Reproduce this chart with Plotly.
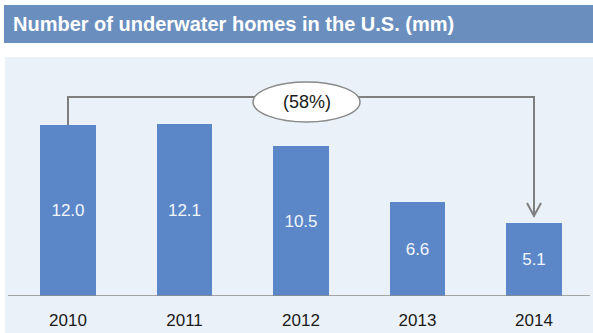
import plotly.graph_objects as go

# Data
years = ["2010", "2011", "2012", "2013", "2014"]
homes_mm = [12.0, 12.1, 10.5, 6.6, 5.1]
change_label = "(58%)"

W, H = 593, 333
ML, MR, MT, MB = 8, 3, 58, 37
PW, PH = W - ML - MR, H - MT - MB

# px-per-unit scales used for layout geometry
X_C0, X_STEP = 68, 116.5
Y_UNIT = 14.25
x_rng = [-(X_C0 - ML) / X_STEP, (W - MR - X_C0) / X_STEP]
y_rng = [0, PH / Y_UNIT]

FONT = "Liberation Sans, Arial"
panel = "#ebf1f8"


def px_x(px):
    return (px - ML) / PW


def px_y(py):
    return (H - MB - py) / PH


def dx(px):
    return (px - X_C0) / X_STEP


def dy(py):
    return (H - MB - py) / Y_UNIT


xs = list(range(len(years)))

fig = go.Figure()
fig.add_trace(go.Bar(
    x=xs, y=homes_mm, width=0.48,
    marker=dict(color="#5b87c8", line=dict(width=0)),
    text=[f"{v:.1f}" for v in homes_mm],
    textposition="inside", insidetextanchor="middle",
    textfont=dict(color="#f2f6fc", size=17, family=FONT),
    hoverinfo="skip",
))

shapes = [
    # white top strip and left edge
    dict(type="rect", xref="paper", yref="paper", x0=px_x(0), x1=px_x(W), y0=px_y(0), y1=px_y(57),
         fillcolor="white", line=dict(width=0), layer="below"),
    dict(type="rect", xref="paper", yref="paper", x0=px_x(0), x1=px_x(5), y0=px_y(0), y1=px_y(H),
         fillcolor="white", line=dict(width=0), layer="below"),
    # title band
    dict(type="rect", xref="paper", yref="paper", x0=px_x(4), x1=px_x(W), y0=px_y(5), y1=px_y(43),
         fillcolor="#6a8fbf", line=dict(width=0), layer="below"),
    # baseline
    dict(type="line", xref="paper", yref="y", x0=px_x(8), x1=px_x(590), y0=0, y1=0,
         line=dict(color="#8a8a8a", width=1.5)),
]

# bracket from the first bar to the last bar
top = dy(97)
first, last = xs[0], xs[-1]
shapes.append(dict(type="path", xref="x", yref="y",
                   path=f"M {first},{homes_mm[0]} L {first},{top} L {last},{top} L {last},{dy(215)}",
                   line=dict(color="#7f7f7f", width=2)))
# open arrow head
ah = 7 / X_STEP
shapes.append(dict(type="path", xref="x", yref="y",
                   path=f"M {last - ah},{dy(203)} L {last},{dy(216)} L {last + ah},{dy(203)}",
                   line=dict(color="#7f7f7f", width=2)))
# ellipse holding the change label
shapes.append(dict(type="circle", xref="x", yref="y",
                   x0=dx(253), x1=dx(360), y0=dy(122), y1=dy(82),
                   fillcolor="white", line=dict(color="#8a8a8a", width=1.5)))

annotations = [
    dict(text="<b>Number of underwater homes in the U.S. (mm)</b>", xref="paper", yref="paper",
         x=px_x(11), y=px_y(24), xanchor="left", yanchor="middle", showarrow=False,
         font=dict(color="white", size=20, family=FONT)),
    dict(text=change_label, xref="x", yref="y", x=dx(306.5), y=dy(102), showarrow=False,
         font=dict(color="#1a1a1a", size=18, family=FONT)),
]

fig.update_layout(
    width=W, height=H,
    margin=dict(l=ML, r=MR, t=MT, b=MB),
    paper_bgcolor=panel, plot_bgcolor=panel,
    showlegend=False,
    shapes=shapes, annotations=annotations,
    xaxis=dict(range=x_rng, tickvals=xs, ticktext=years, showgrid=False, zeroline=False,
               showline=False, ticks="outside", ticklen=9, tickcolor="rgba(0,0,0,0)",
               fixedrange=True, automargin=False,
               tickfont=dict(size=17, color="#1a1a1a", family=FONT)),
    yaxis=dict(range=y_rng, showgrid=False, zeroline=False, showticklabels=False,
               showline=False, fixedrange=True, automargin=False),
    bargap=0,
)

fig.write_html("out.html", config={"displayModeBar": False})
